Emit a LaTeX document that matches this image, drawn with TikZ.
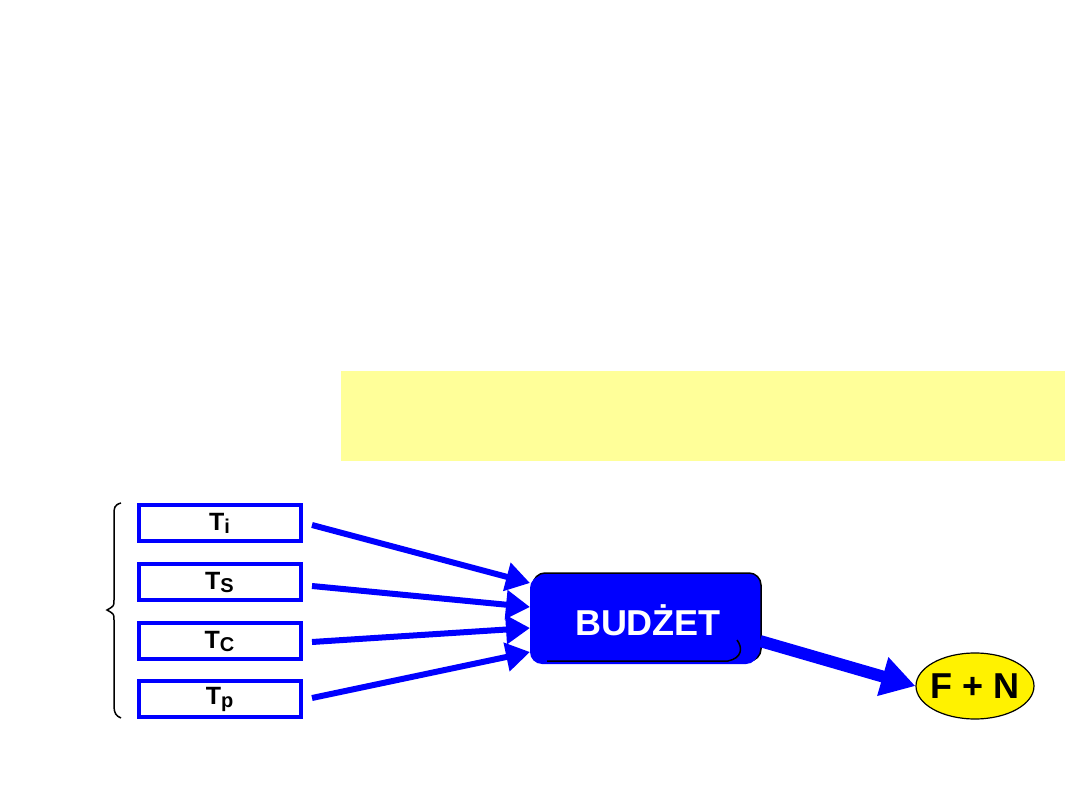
\documentclass[tikz,border=0pt]{standalone}
\usepackage{fontspec}
\setmainfont{Liberation Sans}
\usetikzlibrary{arrows.meta,shapes.geometric}
\definecolor{myblue}{RGB}{0,0,255}
\definecolor{lightyel}{RGB}{255,255,153}
\newcommand{\tsub}[1]{T\raisebox{-3pt}{\fontsize{20}{20}\selectfont #1}}
\begin{document}
\begin{tikzpicture}[x=1pt,y=-1pt,
  tbox/.style={draw=myblue,line width=4pt,fill=white,minimum width=162pt,minimum height=36pt,inner sep=0pt,font=\bfseries\fontsize{25}{26}\selectfont},
  inarrow/.style={draw=myblue,line width=6pt,-{Triangle[length=24pt,width=28pt]}},
  bigarrow/.style={draw=myblue,line width=12pt,-{Triangle[length=34pt,width=38pt]}}]
\useasboundingbox (0,0) rectangle (1080,810);
\fill[lightyel] (341,371) rectangle (1065,461);
\node[tbox] (ti) at (219.5,523) {\tsub{i}};
\node[tbox] (ts) at (219.5,582) {\tsub{S}};
\node[tbox] (tc) at (219.5,641) {\tsub{C}};
\node[tbox] (tp) at (219.5,699) {\tsub{p}};
\draw[line width=1.5pt] (121,503) .. controls (114,505) and (114,508) .. (114,515) -- (114,600) .. controls (114,606) .. (107,610) .. controls (114,614) .. (114,620) -- (114,706) .. controls (114,713) and (116,716) .. (121,718);
% budzet
\draw[line width=1.5pt,fill=myblue,rounded corners=12pt] (533,573) rectangle (761,661);
\fill[myblue,rounded corners=12pt] (530,576) rectangle (758,664);
\draw[line width=1.5pt] (737,640) .. controls (743,648) and (742,658) .. (728,661) -- (547,661);
\node[font=\bfseries\fontsize{36}{38}\selectfont,text=white] (b) at (648,620) {BUDŻET};
\node[ellipse,draw,line width=1.2pt,fill=yellow,minimum width=118pt,minimum height=66pt,inner sep=0pt] (fn) at (975,686) {};
\node[font=\bfseries\fontsize{36}{38}\selectfont] (fnt) at (fn.center) {F + N};
\coordinate (a1) at (530,583);
\coordinate (a2) at (530,607);
\coordinate (a3) at (530,628);
\coordinate (a4) at (530,652);
\coordinate (s1) at (312,525);
\coordinate (s2) at (312,586);
\coordinate (s3) at (312,642);
\coordinate (s4) at (312,698);
\draw[inarrow] (s1) -- (a1);
\draw[inarrow] (s2) -- (a2);
\draw[inarrow] (s3) -- (a3);
\draw[inarrow] (s4) -- (a4);
\coordinate (bo) at (760,641);
\draw[bigarrow] (bo) -- (fn.west);
\end{tikzpicture}
\end{document}
